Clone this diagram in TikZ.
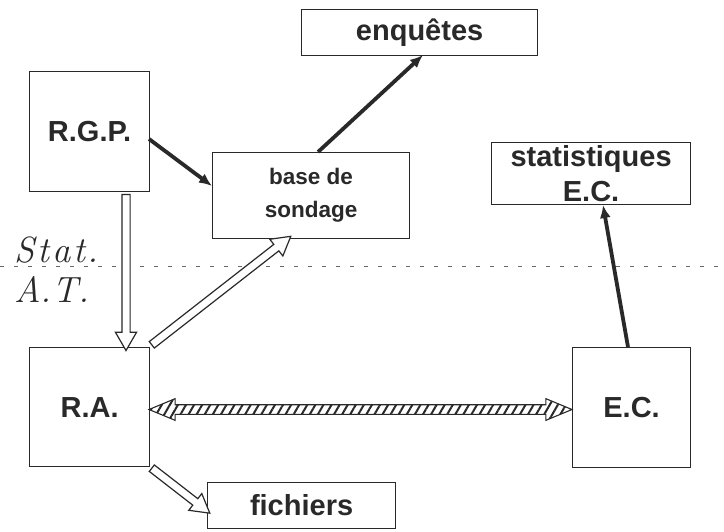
\documentclass[tikz,border=0pt]{standalone}
\usepackage{fontspec}
\setmainfont{Liberation Sans}
\usetikzlibrary{arrows.meta,shapes.arrows,patterns.meta,calc}
\definecolor{ink}{gray}{0.16}
\newcommand\hollowarr[3]{%
  \path let \p1=(#2), \p2=(#3), \n1={atan2(\y2-\y1,\x2-\x1)}, \n2={veclen(\x2-\x1,\y2-\y1)} in
    node[hollowarrow, rotate=\n1, minimum height=\n2] (#1) at ($(\p1)!0.5!(\p2)$) {};}
\newcommand\hatcharr[3]{%
  \path let \p1=(#2), \p2=(#3), \n1={atan2(\y2-\y1,\x2-\x1)}, \n2={veclen(\x2-\x1,\y2-\y1)} in
    node[hatcharrow, rotate=\n1, minimum height=\n2] (#1) at ($(\p1)!0.5!(\p2)$) {};}
\begin{document}
\begin{tikzpicture}[x=1pt,y=-1pt,
  box/.style={draw=ink, line width=1.2pt, inner sep=0pt, anchor=north west, align=center,
    text=ink, font=\fontsize{29}{34}\selectfont\bfseries},
  small/.style={font=\fontsize{22.5}{33}\selectfont\bfseries},
  mid/.style={font=\fontsize{29}{35}\selectfont\bfseries},
  solidarr/.style={draw=ink, line width=3.8pt, -{Latex[length=13pt,width=11pt]}},
  hollowarrow/.style={single arrow, draw=ink, fill=white, line width=1.2pt, inner xsep=0pt,
    inner ysep=3.5pt, minimum width=0pt, outer sep=0pt, single arrow head extend=6.5pt,
    single arrow tip angle=60},
  hatcharrow/.style={double arrow, draw=ink, line width=1.1pt, inner xsep=0pt, inner ysep=3.8pt,
    minimum width=0pt, outer sep=0pt, double arrow head extend=6pt, double arrow tip angle=45,
    pattern={Lines[angle=60,distance=7pt,line width=2pt]}, pattern color=ink},
  sidelabel/.style={text=ink, anchor=base west, inner sep=0pt,
    font=\fontfamily{lmr}\fontshape{it}\fontsize{36.5}{40}\selectfont}
]
\useasboundingbox (0,0) rectangle (724,531);
\fill[white] (0,0) rectangle (724,531);

% dashed separator
\draw[ink!70, line width=0.9pt, dash pattern=on 4pt off 10pt] (0,266.5) -- (724,266.5);
\node[sidelabel] (statlab) at (14,262) {S\kern3pt t\kern3pt a\kern3pt t\kern2pt.};
\node[sidelabel] (atlab) at (14,302) {A.\kern1pt T.};

% boxes
\node[box, minimum width=236pt, minimum height=46pt] (enq) at (301,9) {enquêtes};
\node[box, minimum width=120pt, minimum height=120pt] (rgp) at (29,71) {R.G.P.};
\node[box, small, minimum width=197pt, minimum height=86pt] (base) at (212,152) {base de\\sondage};
\node[box, mid, minimum width=199pt, minimum height=62pt] (stat) at (491,142) {statistiques\\E.C.};
\node[box, minimum width=120pt, minimum height=119pt] (ra) at (29,347) {R.A.};
\node[box, minimum width=118pt, minimum height=120pt] (ec) at (572,347) {E.C.};
\node[box, minimum width=188pt, minimum height=46pt] (fich) at (207,482) {fichiers};

% anchor points on borders
\coordinate (p1) at (149,139);
\coordinate (p2) at (212,186);
\coordinate (p3) at (318,152);
\coordinate (p4) at (423,55);
\coordinate (p5) at (628,347);
\coordinate (p6) at (603,205);
\coordinate (q1) at (126,191);
\coordinate (q2) at (126,347);
\coordinate (q3) at (149,347);
\coordinate (q4) at (288,238.5);
\coordinate (q5) at (149,466);
\coordinate (q6) at (207,511);
\coordinate (r1) at (149,409.5);
\coordinate (r2) at (572,409.5);

% solid arrows
\draw[solidarr] (p1) -- (p2);
\draw[solidarr] (p3) -- (p4);
\draw[solidarr] (p5) -- (p6);

% hollow arrows
\hollowarr{h1}{q1}{q2}
\hollowarr{h2}{q3}{q4}
\hollowarr{h3}{q5}{q6}

% hatched double arrow
\hatcharr{dbl}{r1}{r2}
\end{tikzpicture}
\end{document}
